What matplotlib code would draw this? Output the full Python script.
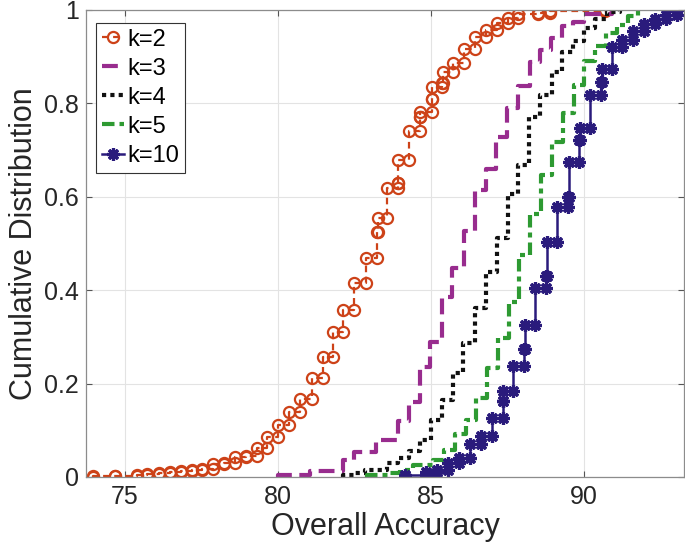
import numpy as np
import matplotlib
matplotlib.use("Agg")
import matplotlib.pyplot as plt

plt.rcParams["font.family"] = ["Liberation Sans", "DejaVu Sans"]

k2_acc = [73.95, 74.67, 75.39, 75.72, 76.11, 76.47, 76.83, 77.19, 77.52, 77.88,
          78.24, 78.59, 78.95, 79.31, 79.64, 80.00, 80.36, 80.72, 81.11, 81.47,
          81.80, 82.12, 82.48, 82.88, 83.24, 83.26, 83.56, 83.92, 83.94, 84.28,
          84.64, 84.66, 85.03, 85.05, 85.36, 85.38, 85.72, 86.08, 86.44, 86.80,
          87.16, 87.52, 87.84, 88.50, 88.89, 90.69]
k2_cdf = [0.002, 0.003, 0.004, 0.006, 0.009, 0.011, 0.013, 0.015, 0.017, 0.028,
          0.031, 0.042, 0.045, 0.062, 0.086, 0.111, 0.139, 0.167, 0.212, 0.257,
          0.310, 0.358, 0.415, 0.469, 0.525, 0.555, 0.619, 0.630, 0.679, 0.741,
          0.771, 0.782, 0.810, 0.835, 0.844, 0.867, 0.887, 0.916, 0.942, 0.957,
          0.972, 0.983, 0.991, 0.994, 0.997, 1.000]

k3_acc = [80.00, 81.05, 82.12, 82.48, 83.20, 83.92, 84.28, 84.64, 84.97, 85.36,
          85.69, 86.08, 86.44, 86.80, 87.12, 87.48, 87.84, 88.24, 88.56, 88.92,
          89.28, 89.64, 90.00, 90.92]
k3_cdf = [0.004, 0.012, 0.036, 0.054, 0.079, 0.120, 0.160, 0.235, 0.290, 0.385,
          0.447, 0.527, 0.615, 0.660, 0.728, 0.790, 0.837, 0.889, 0.915, 0.940,
          0.966, 0.975, 0.991, 1.000]

k4_acc = [82.12, 82.48, 82.84, 83.56, 83.92, 84.28, 84.64, 85.00, 85.36, 85.72,
          86.05, 86.44, 86.80, 87.16, 87.52, 87.84, 88.20, 88.56, 88.95, 89.28,
          89.64, 90.00, 90.36, 90.75, 91.18]
k4_cdf = [0.004, 0.008, 0.015, 0.031, 0.040, 0.055, 0.079, 0.122, 0.165, 0.223,
          0.287, 0.361, 0.440, 0.512, 0.606, 0.668, 0.770, 0.817, 0.868, 0.910,
          0.934, 0.961, 0.981, 0.996, 1.000]

k5_acc = [82.91, 83.59, 83.99, 84.41, 85.07, 85.42, 85.78, 86.14, 86.47, 86.83,
          87.19, 87.55, 87.88, 88.24, 88.59, 88.95, 89.31, 89.67, 90.00, 90.36,
          90.72, 91.08, 91.44, 91.76]
k5_cdf = [0.004, 0.008, 0.015, 0.025, 0.036, 0.058, 0.092, 0.122, 0.169, 0.233,
          0.298, 0.375, 0.475, 0.563, 0.647, 0.717, 0.779, 0.839, 0.891, 0.923,
          0.950, 0.968, 0.987, 1.000]

k10_acc = [84.15, 84.84, 85.20, 85.56, 85.92, 86.27, 86.63, 86.99, 87.35, 87.37,
           87.68, 88.04, 88.06, 88.40, 88.76, 88.78, 89.12, 89.48, 89.50, 89.84,
           89.86, 90.20, 90.56, 90.58, 90.92, 91.24, 91.60, 91.96, 92.32, 92.68,
           93.04]
k10_cdf = [0.005, 0.010, 0.015, 0.030, 0.040, 0.071, 0.088, 0.126, 0.163, 0.184,
           0.238, 0.274, 0.325, 0.404, 0.430, 0.504, 0.578, 0.600, 0.674, 0.722,
           0.747, 0.818, 0.846, 0.874, 0.921, 0.935, 0.955, 0.970, 0.980, 0.990,
           1.000]

labels = ["k=2", "k=3", "k=4", "k=5", "k=10"]

TXT = "#262626"


def stairs(acc, cdf):
    # every corner of the staircase is a vertex, so markers sit on both ends
    acc = np.asarray(acc)
    cdf = np.asarray(cdf)
    xs = np.repeat(acc, 2)
    ys = np.concatenate([[0.0], np.repeat(cdf, 2)[:-1]])
    return xs, ys


fig = plt.figure(figsize=(6.85, 5.52), dpi=100)
ax = fig.add_axes([0.1255, 0.1359, 0.873, 0.846])

styles = [
    dict(color="#CD4218", lw=1.6, ls=(0, (3, 2)), marker="o", ms=8,
         mfc="none", mew=1.6),
    dict(color="#982C8E", lw=3.0, ls=(0, (3.8, 1.8)), marker=None),
    dict(color="#111111", lw=3.0, ls=(0, (1, 1)), marker=None,
         dash_capstyle="butt"),
    dict(color="#2E9A32", lw=3.0, ls=(0, (3.0, 1.2, 1.2, 1.2)), marker=None),
    dict(color="#2A1B7C", lw=1.8, ls="-", marker=(8, 2, 0), ms=9, mew=2.3),
]
series = [(k2_acc, k2_cdf), (k3_acc, k3_cdf), (k4_acc, k4_cdf),
          (k5_acc, k5_cdf), (k10_acc, k10_cdf)]

handles = []
for (acc, cdf), st, lab in zip(series, styles, labels):
    xs, ys = stairs(acc, cdf)
    kw = dict(st)
    ls = kw.pop("ls")
    line, = ax.plot(xs, ys, linestyle=ls, label=lab, **kw)
    handles.append(line)

ax.set_xlim(73.73, 93.27)
ax.set_ylim(0, 1)
ax.set_xticks([75, 80, 85, 90])
ax.set_yticks([0, 0.2, 0.4, 0.6, 0.8, 1.0])
ax.set_yticklabels(["0", "0.2", "0.4", "0.6", "0.8", "1"])
ax.grid(True, color="#E3E3E3", lw=0.8)
ax.set_axisbelow(True)
ax.tick_params(direction="in", length=4, width=0.8, colors="#555555",
               labelcolor=TXT, labelsize=18, top=True, right=True)
ax.tick_params(axis="x", pad=6)
ax.tick_params(axis="y", pad=5)
for sp in ax.spines.values():
    sp.set_color("#8C8C8C")
    sp.set_linewidth(0.9)

ax.set_xlabel("Overall Accuracy", fontsize=22, color=TXT, labelpad=2)
ax.set_ylabel("Cumulative Distribution", fontsize=22, color=TXT, labelpad=4)

leg = ax.legend(handles=handles, loc="upper left", bbox_to_anchor=(0.017, 0.973),
                fontsize=17, handlelength=0.95, handletextpad=0.12,
                borderpad=0.25, labelspacing=0.3, borderaxespad=0.0,
                fancybox=False, framealpha=1, edgecolor="#333333")
leg.get_frame().set_linewidth(0.8)
for t in leg.get_texts():
    t.set_color("black")

fig.savefig("out.png", dpi=100)
